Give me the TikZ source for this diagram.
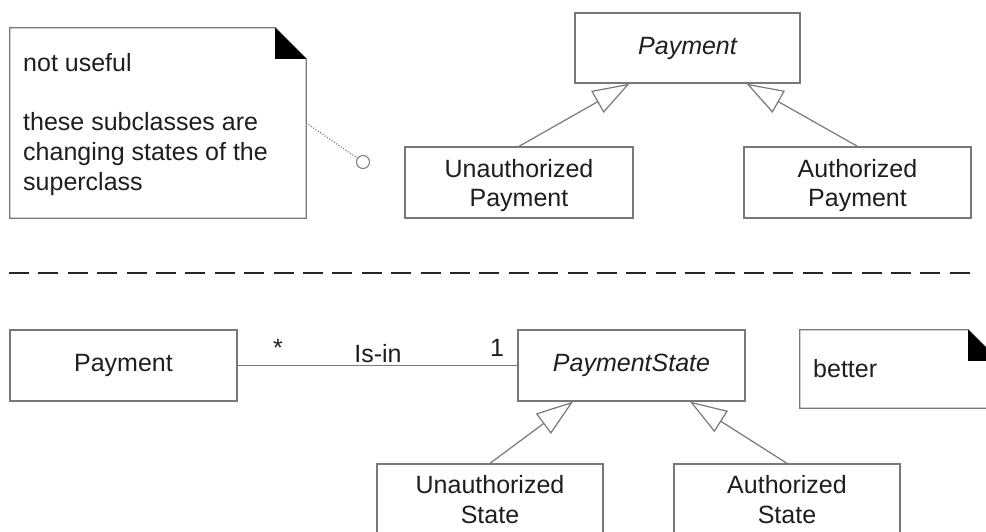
\documentclass[tikz,border=0pt]{standalone}
\usepackage{fontspec}
\setmainfont{Liberation Sans}
\usetikzlibrary{arrows.meta,calc}
\definecolor{linegray}{RGB}{120,120,120}
\definecolor{txtdark}{RGB}{30,30,30}
\newcommand{\toprl}{\rule{0pt}{25pt}}
\newcommand{\botrl}{\rule[-6pt]{0pt}{6pt}}
\begin{document}
\begin{tikzpicture}[x=1pt,y=-1pt,
  every node/.style={font=\fontsize{25}{29.7}\selectfont, text=txtdark},
  cls/.style={draw=linegray, line width=1.3pt, fill=white, inner sep=0pt,
    minimum width=227pt, minimum height=71pt, align=center},
  notearea/.style={draw=none, inner sep=0pt},
  noteline/.style={draw=linegray, line width=1.3pt, line join=miter},
  gen/.style={draw=linegray, line width=1.2pt,
    -{Triangle[length=37pt,width=25pt,fill=white]}},
  assoc/.style={draw=linegray, line width=1.2pt},
  anchorline/.style={draw=linegray, line width=1pt, dash pattern=on 1.2pt off 1.6pt},
  sep/.style={draw=black!85, line width=2.6pt, dash pattern=on 20pt off 9.4pt},
  lbl/.style={inner sep=0pt, anchor=base}
]
\clip (0,0) rectangle (986,531);
\fill[white] (0,0) rectangle (986,531);

% ---------- upper part ----------
\node[notearea, minimum width=296pt, minimum height=190pt] (note1) at (158,123) {};
\draw[noteline] (note1.north west) -- ($(note1.north east)+(-31,0)$)
  -- ($(note1.north east)+(0,31)$) -- (note1.south east) -- (note1.south west) -- cycle;
\fill[black] ($(note1.north east)+(-31,0)$) -- ($(note1.north east)+(-31,31)$)
  -- ($(note1.north east)+(0,31)$) -- cycle;
\node[inner sep=0pt, anchor=north west, align=left] (note1txt) at (23,53)
  {not useful\\[29.7pt]these subclasses are\\changing states of the\\superclass};
\node[draw=linegray, line width=1pt, circle, inner sep=0pt, minimum size=13pt, fill=white] (c1) at (363,162) {};
\draw[anchorline] (note1.east) -- (c1);

\node[cls, minimum width=225pt, minimum height=70pt] (pay) at (687.5,48) {\itshape Payment};
\node[cls, minimum width=228pt] (upay) at (519,182.5) {\toprl Unauthorized\\\botrl Payment};
\node[cls] (apay) at (857.5,182.5) {\toprl Authorized\\\botrl Payment};
\draw[gen] (upay.north) -- ($(pay.south)+(-58,0)$);
\draw[gen] (apay.north) -- ($(pay.south)+(59,0)$);

% ---------- separator ----------
\coordinate (s1) at (9,273);
\coordinate (s2) at (976,273);
\draw[sep] (s1) -- (s2);

% ---------- lower part ----------
\node[cls] (pay2) at (123.5,365.5) {Payment};
\node[cls] (ps) at (631.5,365.5) {\itshape PaymentState};
\draw[assoc] (pay2.east) -- (ps.west);
\node[lbl] (mstar) at (278,356) {*};
\node[lbl] (isin) at (378,362) {Is-in};
\node[lbl] (mone) at (497,356) {1};

\node[notearea, minimum width=199pt, minimum height=78pt] (note2) at (899.5,369) {};
\draw[noteline] (note2.north west) -- ($(note2.north east)+(-31,0)$)
  -- ($(note2.north east)+(0,31)$) -- (note2.south east) -- (note2.south west) -- cycle;
\fill[black] ($(note2.north east)+(-31,0)$) -- ($(note2.north east)+(-31,31)$)
  -- ($(note2.north east)+(0,31)$) -- cycle;
\node[inner sep=0pt, anchor=base west] (note2txt) at (813,377) {better};

\node[cls, minimum width=226pt, minimum height=70pt] (ust) at (490,499) {\toprl Unauthorized\\\botrl State};
\node[cls, minimum width=226pt, minimum height=70pt] (ast) at (787,499) {\toprl Authorized\\\botrl State};
\draw[gen] (ust.north) -- ($(ps.south)+(-58.5,0)$);
\draw[gen] (ast.north) -- ($(ps.south)+(58.5,0)$);
\end{tikzpicture}
\end{document}
